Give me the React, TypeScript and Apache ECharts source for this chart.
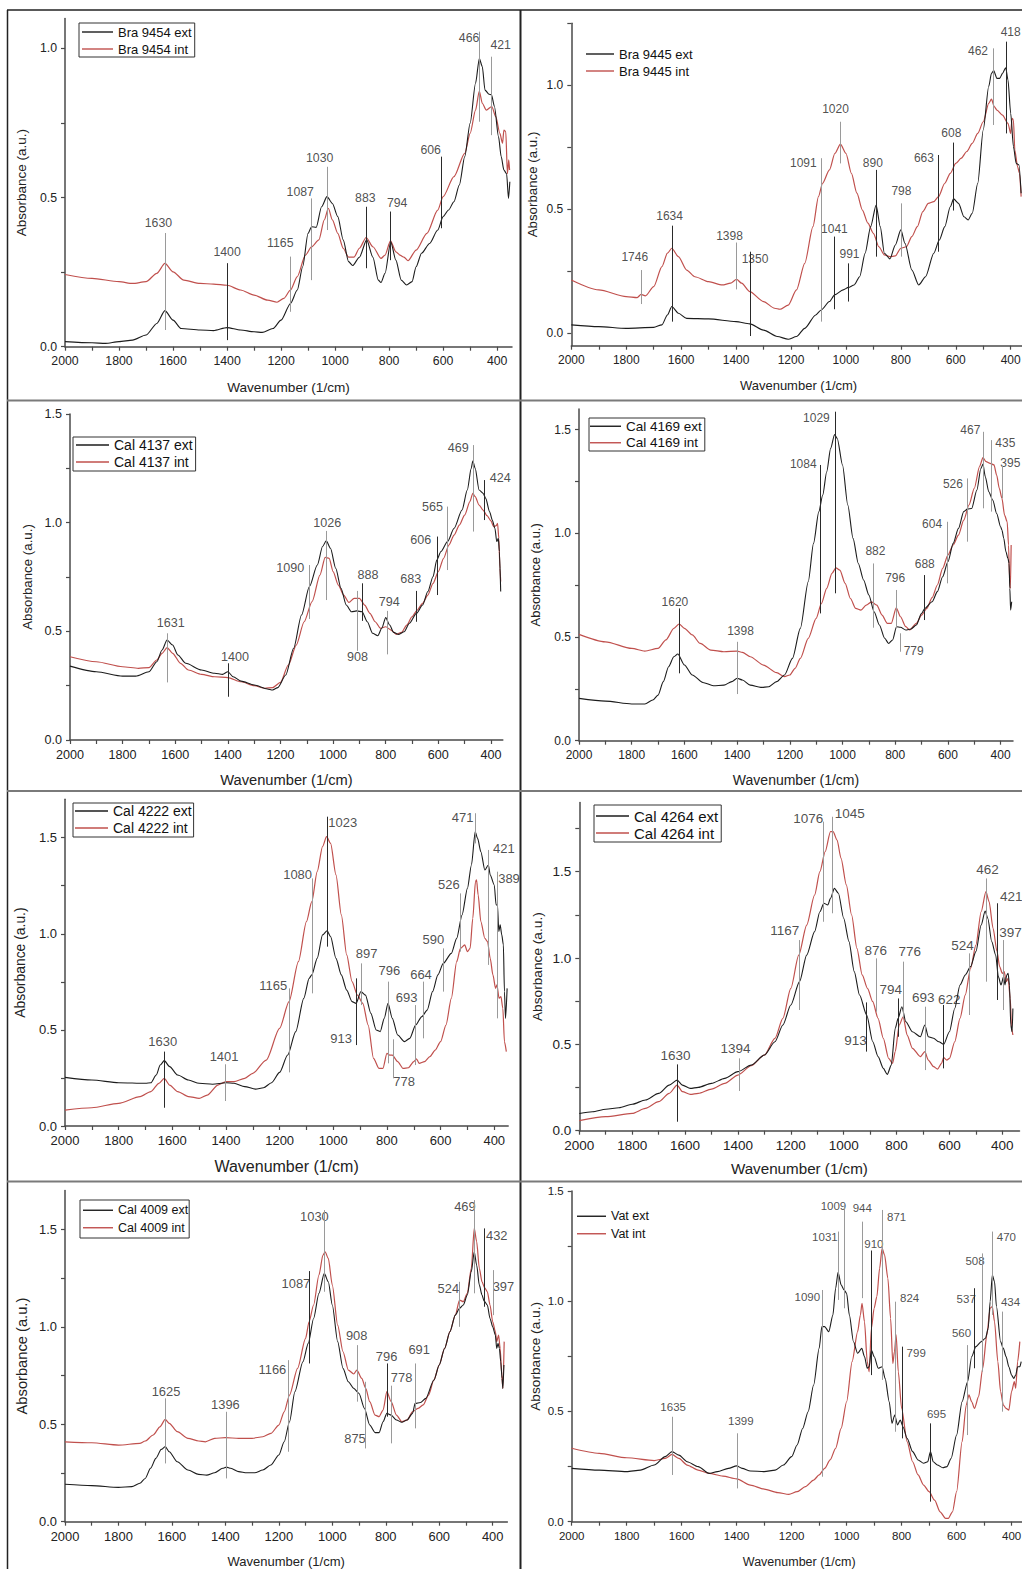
import React, { useEffect, useRef } from 'react';
import * as echarts from 'echarts';

type Pt = [number, number];
// [label (wavenumber), line top abs, line bottom abs, tone, label wavenumber, label abs]
type Ann = [string, number, number, 'k' | 'g', number, number];

// ---------- Panel 1 : Bra 9454 ----------
const bra9454Ext: Pt[] = [[2000,0.017],[1900,0.013],[1850,0.011],[1800,0.017],[1750,0.022],[1700,0.039],[1660,0.078],[1630,0.121],[1600,0.089],[1570,0.061],[1500,0.056],[1450,0.054],[1400,0.064],[1350,0.056],[1300,0.05],[1270,0.048],[1230,0.061],[1200,0.089],[1165,0.145],[1140,0.19],[1120,0.268],[1100,0.38],[1087,0.402],[1070,0.4],[1050,0.469],[1030,0.503],[1010,0.48],[990,0.436],[970,0.358],[950,0.285],[935,0.272],[910,0.3],[883,0.358],[860,0.3],[840,0.223],[830,0.215],[815,0.246],[794,0.352],[775,0.29],[755,0.223],[735,0.207],[715,0.218],[700,0.268],[680,0.313],[650,0.346],[620,0.391],[600,0.436],[580,0.458],[560,0.486],[540,0.542],[520,0.637],[500,0.749],[480,0.883],[466,0.966],[455,0.939],[445,0.86],[430,0.846],[421,0.844],[410,0.805],[395,0.704],[385,0.637],[375,0.592],[365,0.58],[358,0.497],[353,0.553]];
const bra9454Int: Pt[] = [[2000,0.242],[1900,0.229],[1800,0.218],[1750,0.212],[1700,0.218],[1660,0.246],[1630,0.279],[1600,0.251],[1560,0.223],[1500,0.212],[1450,0.21],[1400,0.206],[1350,0.19],[1300,0.173],[1250,0.156],[1215,0.149],[1190,0.162],[1165,0.19],[1140,0.235],[1110,0.307],[1087,0.335],[1060,0.358],[1040,0.425],[1025,0.464],[1010,0.425],[990,0.38],[970,0.33],[950,0.3],[930,0.3],[910,0.33],[885,0.366],[860,0.335],[830,0.296],[815,0.307],[795,0.355],[775,0.318],[760,0.307],[745,0.3],[730,0.288],[700,0.324],[660,0.38],[620,0.458],[600,0.503],[560,0.57],[520,0.648],[500,0.715],[480,0.793],[466,0.857],[455,0.816],[440,0.793],[420,0.805],[405,0.771],[390,0.715],[380,0.682],[375,0.726],[368,0.72],[362,0.58],[357,0.626],[354,0.592]];
const bra9454Ann: Ann[] = [['1630',0.381,0.056,'g',1654,0.413],['1400',0.28,0.022,'k',1400,0.318],['1165',0.302,0.117,'g',1203,0.346],['1087',0.497,0.223,'g',1129,0.52],['1030',0.603,0.391,'g',1057,0.631],['883',0.469,0.263,'k',888,0.499],['794',0.453,0.29,'k',770,0.48],['606',0.637,0.397,'k',646,0.659],['466',1.056,0.754,'g',504,1.034],['421',0.972,0.709,'g',387,1.011]];

// ---------- Panel 2 : Bra 9445 ----------
const bra9445Ext: Pt[] = [[2000,0.034],[1900,0.027],[1800,0.02],[1700,0.024],[1670,0.034],[1650,0.074],[1634,0.108],[1610,0.081],[1580,0.06],[1500,0.058],[1400,0.047],[1350,0.038],[1300,0.013],[1250,-0.013],[1210,-0.024],[1180,-0.013],[1150,0.02],[1110,0.074],[1090,0.094],[1060,0.128],[1041,0.155],[1010,0.175],[991,0.185],[970,0.195],[950,0.228],[930,0.323],[910,0.43],[890,0.517],[875,0.43],[860,0.323],[840,0.3],[820,0.356],[800,0.417],[785,0.363],[760,0.255],[735,0.195],[710,0.228],[680,0.323],[660,0.376],[640,0.43],[620,0.51],[608,0.542],[590,0.524],[570,0.47],[555,0.457],[540,0.484],[520,0.605],[500,0.82],[480,0.995],[470,1.048],[462,1.059],[450,1.028],[440,1.028],[430,1.048],[418,1.071],[410,1.022],[400,0.887],[390,0.753],[380,0.685],[370,0.679],[362,0.565]];
const bra9445Int: Pt[] = [[2000,0.215],[1900,0.175],[1800,0.148],[1760,0.144],[1746,0.157],[1730,0.151],[1700,0.188],[1670,0.269],[1650,0.323],[1634,0.343],[1610,0.309],[1580,0.255],[1550,0.228],[1500,0.208],[1450,0.195],[1420,0.202],[1398,0.218],[1380,0.202],[1350,0.168],[1300,0.128],[1260,0.101],[1240,0.097],[1210,0.114],[1180,0.175],[1150,0.282],[1120,0.43],[1100,0.551],[1085,0.605],[1060,0.659],[1040,0.726],[1020,0.763],[1000,0.726],[980,0.645],[960,0.565],[940,0.497],[920,0.444],[900,0.403],[880,0.349],[860,0.316],[840,0.309],[820,0.312],[800,0.343],[780,0.349],[760,0.39],[740,0.43],[720,0.491],[700,0.524],[680,0.531],[663,0.551],[640,0.605],[620,0.645],[600,0.685],[580,0.706],[560,0.733],[540,0.766],[520,0.806],[500,0.853],[480,0.927],[470,0.944],[460,0.914],[450,0.9],[430,0.88],[410,0.847],[400,0.806],[395,0.867],[390,0.86],[385,0.739],[375,0.672],[368,0.645],[362,0.551]];
const bra9445Ann: Ann[] = [['1746',0.255,0.118,'g',1769,0.308],['1634',0.434,0.047,'k',1642,0.474],['1398',0.366,0.177,'g',1424,0.392],['1350',0.329,-0.011,'k',1331,0.298],['1091',0.706,0.047,'g',1155,0.687],['1041',0.39,0.097,'k',1042,0.422],['991',0.282,0.128,'k',987,0.32],['1020',0.853,0.685,'g',1038,0.903],['890',0.659,0.309,'k',902,0.688],['798',0.524,0.309,'g',798,0.574],['663',0.719,0.329,'k',716,0.708],['608',0.769,0.495,'k',616,0.806],['462',1.149,0.84,'g',519,1.14],['418',1.176,0.806,'k',400,1.215]];

// ---------- Panel 3 : Cal 4137 ----------
const cal4137Ext: Pt[] = [[2000,0.34],[1900,0.314],[1800,0.294],[1750,0.294],[1700,0.314],[1670,0.36],[1650,0.414],[1631,0.46],[1610,0.437],[1590,0.391],[1560,0.353],[1500,0.322],[1450,0.307],[1420,0.302],[1400,0.314],[1380,0.291],[1350,0.271],[1300,0.253],[1250,0.235],[1230,0.23],[1210,0.241],[1180,0.299],[1150,0.422],[1120,0.575],[1090,0.706],[1060,0.805],[1040,0.89],[1026,0.917],[1010,0.882],[990,0.79],[970,0.698],[950,0.621],[930,0.59],[910,0.594],[890,0.59],[870,0.544],[850,0.491],[830,0.48],[815,0.514],[800,0.563],[785,0.529],[770,0.495],[750,0.486],[730,0.498],[710,0.537],[683,0.583],[660,0.621],[640,0.683],[620,0.752],[606,0.828],[590,0.867],[565,0.913],[540,0.974],[510,1.058],[490,1.15],[475,1.25],[469,1.284],[460,1.25],[445,1.15],[430,1.135],[420,1.112],[405,1.05],[395,1.012],[385,0.974],[378,0.913],[372,0.928],[368,0.867],[363,0.683]];
const cal4137Int: Pt[] = [[2000,0.383],[1900,0.36],[1800,0.337],[1740,0.33],[1700,0.333],[1670,0.368],[1650,0.399],[1631,0.425],[1610,0.399],[1580,0.353],[1550,0.322],[1500,0.302],[1450,0.291],[1400,0.287],[1350,0.268],[1300,0.25],[1260,0.238],[1230,0.241],[1200,0.265],[1170,0.345],[1140,0.437],[1110,0.544],[1080,0.637],[1050,0.759],[1030,0.84],[1015,0.836],[1000,0.775],[980,0.713],[960,0.667],[940,0.633],[920,0.652],[900,0.652],[880,0.621],[860,0.583],[840,0.544],[820,0.514],[800,0.521],[780,0.506],[760,0.486],[740,0.495],[720,0.529],[700,0.567],[680,0.598],[660,0.629],[640,0.667],[620,0.721],[600,0.775],[580,0.836],[560,0.897],[540,0.943],[520,0.989],[500,1.035],[480,1.097],[469,1.135],[460,1.12],[445,1.081],[430,1.058],[415,1.032],[400,1.008],[390,0.982],[380,0.986],[375,0.997],[370,0.928],[366,0.79],[363,0.729]];
const cal4137Ann: Ann[] = [['1631',0.491,0.265,'g',1617,0.54],['1400',0.353,0.199,'k',1373,0.383],['1090',0.805,0.557,'g',1163,0.79],['1026',0.962,0.644,'g',1022,1.0],['908',0.686,0.41,'g',907,0.383],['888',0.721,0.548,'k',867,0.759],['794',0.594,0.394,'g',787,0.637],['683',0.686,0.544,'k',705,0.739],['606',0.936,0.667,'k',667,0.92],['565',1.074,0.782,'g',622,1.07],['469',1.357,0.959,'g',524,1.342],['424',1.196,1.012,'k',365,1.204]];

// ---------- Panel 4 : Cal 4169 ----------
const cal4169Ext: Pt[] = [[2000,0.204],[1900,0.191],[1800,0.177],[1750,0.177],[1720,0.196],[1700,0.22],[1680,0.285],[1660,0.357],[1640,0.405],[1625,0.418],[1600,0.365],[1570,0.317],[1530,0.281],[1490,0.265],[1450,0.268],[1420,0.285],[1400,0.301],[1380,0.293],[1350,0.268],[1310,0.257],[1280,0.26],[1250,0.285],[1220,0.317],[1190,0.397],[1160,0.542],[1130,0.767],[1110,0.952],[1090,1.104],[1075,1.185],[1060,1.297],[1045,1.41],[1030,1.477],[1020,1.458],[1000,1.33],[980,1.137],[960,0.976],[940,0.855],[920,0.775],[900,0.703],[880,0.622],[860,0.558],[840,0.494],[825,0.469],[810,0.486],[795,0.55],[780,0.547],[760,0.534],[740,0.539],[720,0.558],[700,0.614],[688,0.638],[660,0.67],[640,0.719],[620,0.791],[600,0.863],[580,0.952],[560,1.024],[540,1.105],[526,1.117],[510,1.12],[490,1.209],[475,1.313],[467,1.334],[458,1.273],[445,1.201],[430,1.161],[415,1.096],[400,1.032],[395,1.016],[388,0.976],[380,0.912],[372,0.879],[368,0.855],[365,0.735],[362,0.63],[358,0.67]];
const cal4169Int: Pt[] = [[2000,0.513],[1900,0.477],[1800,0.445],[1750,0.432],[1700,0.445],[1670,0.486],[1640,0.542],[1620,0.563],[1600,0.542],[1570,0.51],[1540,0.469],[1500,0.437],[1450,0.429],[1400,0.432],[1380,0.426],[1350,0.405],[1300,0.365],[1250,0.328],[1220,0.309],[1200,0.317],[1180,0.349],[1160,0.397],[1130,0.494],[1100,0.59],[1080,0.662],[1060,0.735],[1040,0.807],[1025,0.834],[1010,0.823],[990,0.759],[970,0.686],[950,0.638],[930,0.63],[910,0.654],[890,0.67],[870,0.654],[850,0.606],[830,0.566],[815,0.566],[796,0.641],[780,0.598],[760,0.55],[745,0.534],[720,0.566],[700,0.606],[680,0.638],[660,0.69],[640,0.751],[620,0.831],[600,0.895],[580,0.944],[560,0.992],[540,1.064],[520,1.137],[500,1.217],[480,1.322],[467,1.365],[455,1.346],[440,1.338],[425,1.33],[415,1.281],[405,1.217],[395,1.169],[385,1.088],[375,1.056],[370,0.944],[366,0.783],[363,0.735],[360,0.944]];
const cal4169Ann: Ann[] = [['1620',0.638,0.325,'k',1636,0.667],['1398',0.477,0.225,'g',1387,0.529],['1084',1.33,0.614,'k',1149,1.333],['1029',1.587,0.711,'k',1099,1.555],['882',0.855,0.545,'g',875,0.916],['796',0.727,0.542,'g',800,0.783],['779',0.518,0.429,'g',730,0.434],['688',0.799,0.582,'k',688,0.85],['604',1.056,0.759,'g',660,1.043],['526',1.265,0.96,'g',581,1.236],['467',1.49,1.121,'g',515,1.498],['435',1.45,1.105,'g',382,1.434],['395',1.325,1.169,'g',363,1.34]];

// ---------- Panel 5 : Cal 4222 ----------
const cal4222Ext: Pt[] = [[2000,0.253],[1900,0.239],[1800,0.225],[1700,0.222],[1680,0.225],[1660,0.265],[1645,0.317],[1630,0.34],[1610,0.309],[1580,0.265],[1540,0.239],[1500,0.222],[1450,0.217],[1400,0.225],[1370,0.222],[1330,0.205],[1290,0.192],[1260,0.199],[1230,0.225],[1200,0.279],[1170,0.369],[1140,0.491],[1110,0.664],[1090,0.768],[1080,0.786],[1060,0.872],[1040,0.994],[1023,1.016],[1010,0.985],[990,0.872],[970,0.786],[950,0.707],[930,0.647],[915,0.638],[897,0.699],[880,0.681],[860,0.586],[840,0.499],[825,0.491],[810,0.56],[796,0.638],[780,0.56],[760,0.473],[735,0.439],[715,0.456],[693,0.525],[670,0.569],[650,0.603],[630,0.699],[610,0.786],[590,0.846],[560,0.898],[540,0.976],[520,1.098],[500,1.236],[485,1.358],[471,1.531],[462,1.496],[450,1.427],[435,1.332],[422,1.358],[415,1.306],[400,1.254],[393,1.15],[388,1.15],[383,1.011],[378,1.046],[372,0.994],[366,0.942],[362,0.699],[358,0.56],[352,0.716]];
const cal4222Int: Pt[] = [[2000,0.083],[1900,0.095],[1800,0.118],[1720,0.153],[1680,0.179],[1650,0.222],[1630,0.248],[1610,0.213],[1580,0.179],[1540,0.153],[1500,0.144],[1470,0.161],[1430,0.213],[1400,0.231],[1370,0.231],[1330,0.248],[1300,0.274],[1250,0.343],[1200,0.508],[1165,0.647],[1130,0.855],[1100,1.063],[1080,1.167],[1060,1.323],[1040,1.453],[1025,1.505],[1010,1.47],[990,1.306],[970,1.098],[950,0.89],[930,0.751],[910,0.681],[890,0.638],[870,0.525],[850,0.352],[830,0.3],[815,0.3],[800,0.378],[790,0.369],[780,0.369],[760,0.335],[740,0.3],[720,0.303],[700,0.335],[690,0.349],[680,0.326],[660,0.335],[640,0.361],[620,0.395],[600,0.439],[580,0.525],[560,0.664],[540,0.855],[526,0.924],[510,0.942],[500,0.907],[490,0.924],[480,1.08],[470,1.271],[466,1.28],[460,1.202],[450,1.063],[435,0.976],[425,0.959],[415,0.872],[405,0.786],[395,0.716],[390,0.734],[382,0.664],[375,0.673],[368,0.612],[362,0.439],[355,0.387]];
const cal4222Ann: Ann[] = [['1630',0.387,0.095,'k',1636,0.439],['1401',0.321,0.13,'g',1407,0.361],['1165',0.716,0.279,'g',1224,0.73],['1080',1.288,0.69,'g',1133,1.306],['1023',1.609,0.933,'k',965,1.58],['913',0.768,0.421,'k',971,0.453],['897',0.846,0.629,'g',876,0.898],['796',0.751,0.326,'g',791,0.808],['778',0.451,0.248,'g',736,0.231],['693',0.629,0.317,'g',727,0.669],['664',0.751,0.456,'g',673,0.789],['590',0.924,0.699,'g',627,0.968],['526',1.21,0.907,'g',569,1.254],['471',1.627,1.47,'g',518,1.604],['421',1.436,0.838,'g',364,1.444],['389',1.323,0.56,'g',345,1.288]];

// ---------- Panel 6 : Cal 4264 ----------
const cal4264Ext: Pt[] = [[2000,0.1],[1950,0.11],[1900,0.124],[1850,0.133],[1800,0.153],[1750,0.178],[1700,0.216],[1660,0.264],[1630,0.293],[1610,0.264],[1580,0.245],[1550,0.251],[1500,0.274],[1450,0.303],[1400,0.342],[1350,0.38],[1300,0.438],[1260,0.515],[1230,0.612],[1200,0.728],[1167,0.863],[1140,1.017],[1110,1.153],[1090,1.268],[1075,1.317],[1060,1.307],[1050,1.346],[1035,1.403],[1020,1.375],[1000,1.23],[980,1.095],[960,0.921],[940,0.786],[913,0.67],[890,0.515],[870,0.429],[850,0.361],[835,0.326],[820,0.38],[805,0.593],[794,0.651],[780,0.718],[765,0.631],[740,0.573],[710,0.544],[693,0.612],[680,0.544],[660,0.535],[640,0.515],[622,0.5],[600,0.573],[580,0.708],[560,0.844],[540,0.902],[520,0.95],[500,1.037],[480,1.191],[465,1.272],[455,1.23],[440,1.095],[425,1.017],[415,0.892],[405,0.844],[395,0.892],[390,0.844],[383,0.902],[378,0.911],[373,0.844],[368,0.612],[363,0.573],[360,0.708]];
const cal4264Int: Pt[] = [[2000,0.058],[1900,0.081],[1800,0.1],[1750,0.129],[1700,0.168],[1660,0.216],[1630,0.264],[1610,0.226],[1580,0.21],[1550,0.216],[1500,0.241],[1450,0.274],[1400,0.322],[1350,0.376],[1300,0.438],[1260,0.535],[1230,0.651],[1200,0.824],[1170,1.017],[1140,1.191],[1110,1.365],[1090,1.5],[1070,1.616],[1050,1.732],[1040,1.732],[1025,1.683],[1010,1.577],[990,1.423],[970,1.249],[950,1.056],[930,0.902],[910,0.824],[890,0.747],[870,0.651],[850,0.535],[830,0.419],[815,0.39],[805,0.458],[790,0.612],[775,0.66],[760,0.554],[740,0.477],[710,0.429],[693,0.458],[680,0.409],[660,0.371],[645,0.357],[630,0.39],[622,0.423],[610,0.409],[600,0.419],[580,0.515],[560,0.651],[540,0.786],[520,0.94],[500,1.075],[480,1.268],[462,1.384],[450,1.326],[435,1.172],[420,1.037],[410,0.95],[400,0.911],[393,0.921],[385,0.863],[378,0.882],[370,0.766],[365,0.593],[360,0.554]];
const cal4264Ann: Ann[] = [['1630',0.384,0.052,'k',1636,0.438],['1394',0.419,0.23,'g',1409,0.477],['1167',1.104,0.699,'g',1223,1.162],['1076',1.79,1.21,'g',1134,1.809],['1045',1.818,1.259,'g',977,1.838],['913',0.743,0.458,'k',955,0.521],['876',0.998,0.689,'g',879,1.042],['794',0.766,0.544,'k',822,0.815],['776',0.979,0.651,'g',750,1.037],['693',0.718,0.351,'g',699,0.772],['622',0.728,0.361,'k',601,0.757],['524',1.027,0.67,'g',551,1.075],['462',1.461,0.863,'g',456,1.51],['421',1.317,0.757,'k',366,1.355],['397',1.104,0.699,'g',369,1.15]];

// ---------- Panel 7 : Cal 4009 ----------
const cal4009Ext: Pt[] = [[2000,0.192],[1900,0.185],[1800,0.176],[1750,0.18],[1720,0.197],[1700,0.222],[1680,0.274],[1660,0.325],[1640,0.371],[1625,0.385],[1610,0.359],[1580,0.308],[1540,0.265],[1500,0.243],[1470,0.239],[1440,0.251],[1410,0.274],[1396,0.28],[1380,0.274],[1350,0.257],[1320,0.251],[1290,0.251],[1260,0.265],[1230,0.291],[1200,0.342],[1180,0.41],[1160,0.513],[1140,0.667],[1110,0.821],[1090,0.915],[1070,1.043],[1050,1.172],[1030,1.274],[1015,1.231],[1000,1.112],[980,0.924],[960,0.787],[940,0.718],[920,0.684],[900,0.658],[880,0.582],[860,0.496],[840,0.457],[825,0.457],[810,0.513],[796,0.556],[780,0.547],[760,0.522],[740,0.51],[720,0.522],[700,0.556],[690,0.607],[670,0.612],[650,0.633],[620,0.727],[600,0.804],[580,0.889],[560,0.975],[540,1.06],[524,1.095],[510,1.112],[495,1.163],[480,1.283],[469,1.385],[460,1.317],[450,1.214],[440,1.163],[432,1.132],[420,1.112],[410,1.043],[400,1.0],[390,0.958],[385,0.889],[380,0.915],[375,0.889],[370,0.821],[365,0.735],[362,0.684],[358,0.804]];
const cal4009Int: Pt[] = [[2000,0.41],[1900,0.405],[1800,0.393],[1720,0.402],[1700,0.414],[1670,0.445],[1645,0.487],[1625,0.525],[1610,0.505],[1580,0.462],[1540,0.428],[1500,0.414],[1475,0.41],[1440,0.428],[1400,0.431],[1350,0.428],[1300,0.428],[1260,0.436],[1230,0.453],[1200,0.496],[1180,0.564],[1160,0.65],[1130,0.787],[1100,0.941],[1087,1.026],[1070,1.112],[1050,1.266],[1035,1.368],[1027,1.385],[1015,1.351],[1000,1.214],[980,1.009],[960,0.872],[940,0.778],[920,0.758],[908,0.778],[890,0.735],[875,0.684],[860,0.616],[840,0.547],[825,0.539],[810,0.573],[796,0.667],[780,0.616],[760,0.547],[740,0.513],[720,0.522],[700,0.564],[680,0.581],[660,0.599],[640,0.65],[620,0.727],[600,0.804],[580,0.889],[560,0.975],[540,1.06],[524,1.137],[510,1.129],[495,1.172],[480,1.3],[469,1.505],[460,1.437],[450,1.3],[440,1.231],[430,1.2],[420,1.18],[410,1.112],[400,1.026],[390,0.975],[385,0.924],[378,0.958],[372,0.889],[366,0.753],[362,0.684],[357,0.924]];
const cal4009Ann: Ann[] = [['1625',0.633,0.299,'g',1622,0.67],['1396',0.564,0.222,'g',1400,0.602],['1166',0.829,0.359,'g',1224,0.783],['1087',1.286,0.812,'k',1136,1.223],['1030',1.599,1.18,'g',1067,1.565],['908',0.906,0.616,'g',909,0.958],['875',0.718,0.376,'g',915,0.428],['796',0.812,0.539,'k',797,0.847],['778',0.698,0.402,'g',741,0.739],['691',0.812,0.479,'g',675,0.884],['524',1.231,1.0,'g',566,1.197],['469',1.65,1.172,'g',504,1.616],['432',1.505,1.103,'k',385,1.471],['397',1.291,1.06,'g',360,1.206]];

// ---------- Panel 8 : Vat ----------
const vatExt: Pt[] = [[2000,0.242],[1900,0.234],[1800,0.227],[1750,0.234],[1700,0.257],[1660,0.295],[1635,0.318],[1610,0.302],[1580,0.272],[1540,0.25],[1500,0.219],[1470,0.227],[1430,0.242],[1400,0.253],[1380,0.242],[1350,0.23],[1300,0.227],[1260,0.234],[1230,0.257],[1200,0.295],[1180,0.348],[1160,0.423],[1140,0.499],[1120,0.62],[1100,0.786],[1090,0.885],[1080,0.885],[1065,0.862],[1050,0.937],[1040,1.059],[1031,1.131],[1020,1.074],[1009,1.051],[1000,1.036],[990,0.937],[975,0.816],[960,0.764],[945,0.786],[935,0.749],[925,0.696],[918,0.703],[910,0.779],[900,0.749],[885,0.696],[871,0.703],[860,0.65],[845,0.544],[835,0.446],[825,0.484],[815,0.439],[805,0.461],[795,0.431],[780,0.378],[760,0.318],[740,0.28],[720,0.265],[705,0.272],[695,0.318],[685,0.272],[670,0.257],[650,0.245],[635,0.25],[620,0.287],[600,0.393],[580,0.544],[560,0.635],[545,0.749],[530,0.794],[510,0.817],[495,0.832],[485,0.877],[478,0.998],[470,1.119],[462,1.089],[455,0.976],[440,0.817],[430,0.786],[420,0.749],[410,0.703],[400,0.665],[392,0.65],[385,0.665],[378,0.703],[370,0.703],[365,0.726]];
const vatInt: Pt[] = [[2000,0.333],[1900,0.31],[1800,0.29],[1700,0.277],[1660,0.287],[1635,0.305],[1610,0.287],[1580,0.257],[1540,0.234],[1500,0.219],[1450,0.207],[1400,0.194],[1350,0.166],[1300,0.148],[1250,0.132],[1210,0.124],[1180,0.136],[1150,0.159],[1120,0.189],[1100,0.212],[1080,0.242],[1060,0.28],[1040,0.333],[1020,0.423],[1000,0.544],[980,0.726],[960,0.862],[950,0.937],[944,0.99],[935,0.907],[925,0.726],[918,0.68],[910,0.877],[900,0.968],[890,1.021],[880,1.149],[871,1.24],[862,1.21],[850,1.104],[840,0.922],[832,0.718],[826,0.771],[820,0.847],[812,0.68],[800,0.514],[780,0.363],[760,0.272],[740,0.212],[720,0.166],[700,0.136],[680,0.098],[660,0.045],[640,0.015],[630,0.015],[615,0.045],[600,0.136],[580,0.363],[565,0.529],[555,0.575],[545,0.544],[535,0.514],[520,0.567],[505,0.696],[490,0.847],[478,0.968],[470,0.976],[462,0.907],[450,0.726],[440,0.59],[430,0.529],[420,0.514],[410,0.506],[400,0.59],[390,0.635],[385,0.605],[378,0.726],[370,0.817]];
const vatAnn: Ann[] = [['1635',0.476,0.212,'g',1631,0.519],['1399',0.401,0.151,'g',1385,0.457],['1090',1.051,0.204,'g',1143,1.021],['1031',1.316,1.006,'g',1079,1.293],['1009',1.437,0.968,'g',1048,1.432],['944',1.361,1.014,'g',943,1.421],['910',1.23,0.665,'k',901,1.258],['871',1.414,0.643,'g',818,1.384],['824',0.998,0.408,'g',771,1.013],['799',0.794,0.378,'k',747,0.764],['695',0.446,0.091,'k',673,0.487],['560',0.801,0.393,'g',582,0.854],['537',1.059,0.696,'k',565,1.01],['508',1.217,0.68,'g',533,1.183],['470',1.316,0.938,'g',419,1.293],['434',0.953,0.499,'g',404,0.995]];

// ---------- axis ticks ----------
const xLabelValues = [400, 600, 800, 1000, 1200, 1400, 1600, 1800, 2000];
const xTickValues = [400, 500, 600, 700, 800, 900, 1000, 1100, 1200, 1300, 1400, 1500, 1600, 1700, 1800, 1900, 2000];

const panels = [
  { ext: bra9454Ext, int: bra9454Int, ann: bra9454Ann, extName: 'Bra 9454 ext', intName: 'Bra 9454 int', yMin: 0, yMax: 1.1, xMin: 345, yLabels: [0, 0.5, 1.0], yTicks: [0, 0.25, 0.5, 0.75, 1.0] },
  { ext: bra9445Ext, int: bra9445Int, ann: bra9445Ann, extName: 'Bra 9445 ext', intName: 'Bra 9445 int', yMin: -0.05, yMax: 1.25, xMin: 345, yLabels: [0, 0.5, 1.0], yTicks: [0, 0.25, 0.5, 0.75, 1.0, 1.25] },
  { ext: cal4137Ext, int: cal4137Int, ann: cal4137Ann, extName: 'Cal 4137 ext', intName: 'Cal 4137 int', yMin: 0, yMax: 1.5, xMin: 355, yLabels: [0, 0.5, 1.0, 1.5], yTicks: [0, 0.25, 0.5, 0.75, 1.0, 1.25, 1.5] },
  { ext: cal4169Ext, int: cal4169Int, ann: cal4169Ann, extName: 'Cal 4169 ext', intName: 'Cal 4169 int', yMin: 0, yMax: 1.6, xMin: 353, yLabels: [0, 0.5, 1.0, 1.5], yTicks: [0, 0.25, 0.5, 0.75, 1.0, 1.25, 1.5] },
  { ext: cal4222Ext, int: cal4222Int, ann: cal4222Ann, extName: 'Cal 4222 ext', intName: 'Cal 4222 int', yMin: 0, yMax: 1.7, xMin: 348, yLabels: [0, 0.5, 1.0, 1.5], yTicks: [0, 0.25, 0.5, 0.75, 1.0, 1.25, 1.5] },
  { ext: cal4264Ext, int: cal4264Int, ann: cal4264Ann, extName: 'Cal 4264 ext', intName: 'Cal 4264 int', yMin: 0, yMax: 1.9, xMin: 335, yLabels: [0, 0.5, 1.0, 1.5], yTicks: [0, 0.25, 0.5, 0.75, 1.0, 1.25, 1.5, 1.75] },
  { ext: cal4009Ext, int: cal4009Int, ann: cal4009Ann, extName: 'Cal 4009 ext', intName: 'Cal 4009 int', yMin: 0, yMax: 1.7, xMin: 345, yLabels: [0, 0.5, 1.0, 1.5], yTicks: [0, 0.25, 0.5, 0.75, 1.0, 1.25, 1.5] },
  { ext: vatExt, int: vatInt, ann: vatAnn, extName: 'Vat ext', intName: 'Vat int', yMin: 0, yMax: 1.5, xMin: 345, yLabels: [0, 0.5, 1.0, 1.5], yTicks: [0, 0.25, 0.5, 0.75, 1.0, 1.25, 1.5] },
];

// ---------- layout (pixels) ----------
const layouts = [
  { left: 65, top: 18.5, width: 447, height: 328.2, fs: 12.3, xTitleFs: 13.6, yTitleFs: 13.5, xGap: 34, yGap: 36.5, lg: { left: 79, top: 23, iw: 31, gap: 4, fs: 13, border: true, pad: [2.5, 3, 1.5, 3] } },
  { left: 571.3, top: 23.3, width: 454.5, height: 322.4, fs: 12, xTitleFs: 13, yTitleFs: 13.3, xGap: 33, yGap: 32.5, lg: { left: 586, top: 47.5, iw: 28, gap: 4, fs: 13, border: false, pad: [0, 0, 0, 0] } },
  { left: 70, top: 414, width: 432.8, height: 326, fs: 12.6, xTitleFs: 14.7, yTitleFs: 13.3, xGap: 32.5, yGap: 36.5, lg: { left: 73, top: 437, iw: 33, gap: 3, fs: 14, border: true, pad: [1, 3, 2, 3] } },
  { left: 579, top: 409, width: 434, height: 331.7, fs: 12, xTitleFs: 14, yTitleFs: 13, xGap: 32.3, yGap: 36.8, lg: { left: 589, top: 418, iw: 31, gap: 2.5, fs: 13.5, border: true, pad: [1.25, 3, 1.25, 1] } },
  { left: 65, top: 799.2, width: 443.2, height: 326.8, fs: 13, xTitleFs: 16, yTitleFs: 13.9, xGap: 32.7, yGap: 38, lg: { left: 73, top: 803, iw: 33, gap: 3, fs: 14, border: true, pad: [1, 2, 2, 2] } },
  { left: 579.3, top: 802.6, width: 440.2, height: 328.1, fs: 13.5, xTitleFs: 15.2, yTitleFs: 13.7, xGap: 30, yGap: 35, lg: { left: 594, top: 805, iw: 33, gap: 2, fs: 15, border: true, pad: [3.5, 3, 1.5, 2] } },
  { left: 65, top: 1190.4, width: 442.4, height: 331.3, fs: 12.9, xTitleFs: 13, yTitleFs: 14.7, xGap: 33.5, yGap: 36, lg: { left: 80, top: 1200, iw: 30, gap: 4.5, fs: 12.5, border: true, pad: [3.75, 1, 3.75, 3] } },
  { left: 571.7, top: 1191, width: 455, height: 330.7, fs: 11.5, xTitleFs: 12.5, yTitleFs: 13.7, xGap: 33.7, yGap: 29, lg: { left: 577, top: 1209.75, iw: 29, gap: 4.5, fs: 12.5, border: false, pad: [0, 0, 0, 0] } },
];

const FONT = '"Liberation Sans", Arial, Helvetica, sans-serif';
const INK = '#1c1c1c';
const RED = '#c0504d';
const AXIS = '#4a4a4a';
const TONE = { k: '#2a2a2a', g: '#9a9a9a' };

function buildOption() {
  const grid: any[] = [];
  const xAxis: any[] = [];
  const yAxis: any[] = [];
  const series: any[] = [];
  const legend: any[] = [];

  panels.forEach((p, i) => {
    const L = layouts[i];
    grid.push({ left: L.left, top: L.top, width: L.width, height: L.height, containLabel: false, outerBoundsMode: 'none' });
    xAxis.push({
      gridIndex: i, type: 'value', inverse: true, min: p.xMin, max: 2000,
      splitLine: { show: false },
      axisLine: { show: true, onZero: false, lineStyle: { color: AXIS, width: 1.5 } },
      axisTick: { show: true, customValues: xTickValues, length: 4, lineStyle: { color: AXIS, width: 1.2 } },
      axisLabel: { customValues: xLabelValues, fontSize: L.fs, color: '#222', margin: 8, fontFamily: FONT, formatter: (v: number) => String(Math.round(v)) },
      name: 'Wavenumber (1/cm)', nameLocation: 'middle', nameGap: L.xGap,
      nameTextStyle: { fontSize: L.xTitleFs, color: '#222', fontFamily: FONT },
    });
    yAxis.push({
      gridIndex: i, type: 'value', min: p.yMin, max: p.yMax,
      splitLine: { show: false },
      axisLine: { show: true, onZero: false, lineStyle: { color: AXIS, width: 1.5 } },
      axisTick: { show: true, customValues: p.yTicks, length: 4, lineStyle: { color: AXIS, width: 1.2 } },
      axisLabel: { customValues: p.yLabels, fontSize: L.fs, color: '#222', margin: 8, fontFamily: FONT, formatter: (v: number) => v.toFixed(1) },
      name: 'Absorbance (a.u.)', nameLocation: 'middle', nameGap: L.yGap, nameRotate: 90,
      nameTextStyle: { fontSize: L.yTitleFs, color: '#222', fontFamily: FONT },
    });
    const common = { type: 'line', xAxisIndex: i, yAxisIndex: i, symbol: 'none', smooth: 0.25, smoothMonotone: 'x', silent: true };
    series.push({
      ...common, name: p.extName, data: p.ext, lineStyle: { color: INK, width: 1.1 }, itemStyle: { color: INK }, z: 3,
    });
    series.push({
      ...common, name: p.intName, data: p.int, lineStyle: { color: RED, width: 1.2 }, itemStyle: { color: RED }, z: 2,
      markLine: {
        silent: true, symbol: ['none', 'none'], animation: false,
        label: { show: false },
        data: p.ann.map((a) => [
          { coord: [parseFloat(a[0]), a[1]], lineStyle: { color: TONE[a[3]], width: 1, type: 'solid' } },
          { coord: [parseFloat(a[0]), a[2]] },
        ]),
      },
    });
    series.push({
      type: 'scatter', xAxisIndex: i, yAxisIndex: i, symbolSize: 0, clip: false, silent: true, z: 4,
      itemStyle: { color: 'rgba(0,0,0,0)' },
      label: { show: true, position: 'inside', formatter: '{b}', fontSize: L.fs, color: '#222', fontFamily: FONT },
      data: p.ann.map((a) => ({ name: a[0], value: [a[4], a[5]] })),
    });
    const lg = L.lg;
    legend.push({
      data: [p.extName, p.intName], orient: 'vertical', left: lg.left, top: lg.top,
      icon: 'rect', itemWidth: lg.iw, itemHeight: 1.4, itemGap: lg.gap, padding: lg.pad,
      borderColor: lg.border ? '#333' : 'transparent', borderWidth: lg.border ? 1 : 0,
      textStyle: { fontSize: lg.fs, color: '#111', fontFamily: FONT },
      selectedMode: false,
    });
  });

  const frame = '#222';
  const divider = '#7a7a7a';
  const graphic = [
    { type: 'line', shape: { x1: 7.5, y1: 10, x2: 7.5, y2: 1569 }, style: { stroke: frame, lineWidth: 1.5 } },
    { type: 'line', shape: { x1: 7, y1: 10, x2: 1022, y2: 10 }, style: { stroke: frame, lineWidth: 1.5 } },
    { type: 'line', shape: { x1: 520.5, y1: 10, x2: 520.5, y2: 1569 }, style: { stroke: frame, lineWidth: 2 } },
    { type: 'line', shape: { x1: 7, y1: 400.5, x2: 1022, y2: 400.5 }, style: { stroke: divider, lineWidth: 2 } },
    { type: 'line', shape: { x1: 7, y1: 791, x2: 1022, y2: 791 }, style: { stroke: divider, lineWidth: 2 } },
    { type: 'line', shape: { x1: 7, y1: 1181.5, x2: 1022, y2: 1181.5 }, style: { stroke: divider, lineWidth: 2 } },
  ];

  return { animation: false, backgroundColor: '#ffffff', grid, xAxis, yAxis, series, legend, graphic };
}

export default function App() {
  const ref = useRef<HTMLDivElement>(null);
  useEffect(() => {
    if (!ref.current) return;
    const chart = echarts.init(ref.current, null, { renderer: 'svg' });
    chart.setOption(buildOption() as any);
    return () => chart.dispose();
  }, []);
  return (
    <div
      ref={ref}
      style={{ position: 'absolute', left: 0, top: 0, width: 1022, height: 1569, background: '#fff' }}
    />
  );
}
